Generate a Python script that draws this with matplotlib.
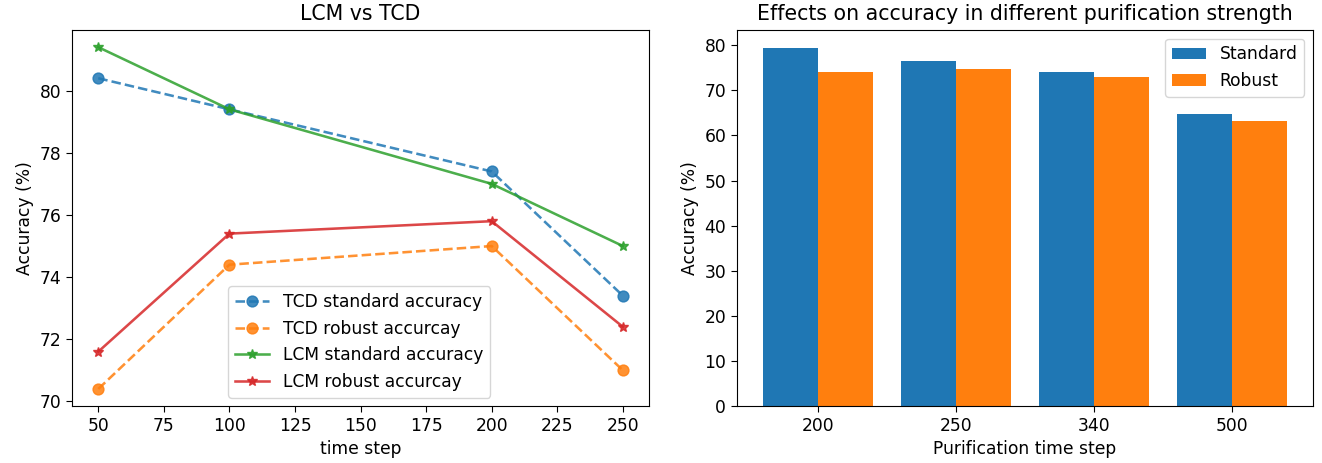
import numpy as np
import matplotlib.pyplot as plt

# line chart data
steps = [50, 100, 200, 250]
tcd_std = [80.4, 79.4, 77.4, 73.4]
tcd_rob = [70.4, 74.4, 75.0, 71.0]
lcm_std = [81.4, 79.4, 77.0, 75.0]
lcm_rob = [71.6, 75.4, 75.8, 72.4]

# bar chart data
pur_steps = ['200', '250', '340', '500']
bar_std = [79.4, 76.6, 74.0, 64.8]
bar_rob = [74.0, 74.8, 72.9, 63.3]

fs = 12.3
fig = plt.figure(figsize=(13.22, 4.63), dpi=100)
ax1 = fig.add_axes([0.0545, 0.123, 0.4365, 0.812])
ax2 = fig.add_axes([0.5575, 0.123, 0.4357, 0.812])

ax1.plot(steps, tcd_std, 'o--', color='C0', markersize=7.8, linewidth=1.85, label='TCD standard accuracy', alpha=0.85)
ax1.plot(steps, tcd_rob, 'o--', color='C1', markersize=7.8, linewidth=1.85, label='TCD robust accurcay', alpha=0.85)
ax1.plot(steps, lcm_std, '*-', color='C2', markersize=7.8, linewidth=1.85, label='LCM standard accuracy', alpha=0.85)
ax1.plot(steps, lcm_rob, '*-', color='C3', markersize=7.8, linewidth=1.85, label='LCM robust accurcay', alpha=0.85)
ax1.set_title('LCM vs TCD', fontsize=14.8, pad=7)
ax1.set_xlabel('time step', fontsize=fs)
ax1.set_ylabel('Accuracy (%)', fontsize=fs)
ax1.tick_params(labelsize=fs, length=4.3)
ax1.legend(loc='lower center', fontsize=fs, bbox_to_anchor=(0.498, 0.0))

x = np.arange(len(pur_steps))
w = 0.4
ax2.bar(x - w / 2, bar_std, w, label='Standard')
ax2.bar(x + w / 2, bar_rob, w, label='Robust')
ax2.set_xticks(x)
ax2.set_xticklabels(pur_steps)
ax2.set_title('Effects on accuracy in different purification strength', fontsize=14.8, pad=7)
ax2.set_xlabel('Purification time step', fontsize=fs)
ax2.set_ylabel('Accuracy (%)', fontsize=fs)
ax2.tick_params(labelsize=fs, length=4.3)
ax2.legend(loc='upper right', fontsize=fs)

fig.savefig('out.png')
